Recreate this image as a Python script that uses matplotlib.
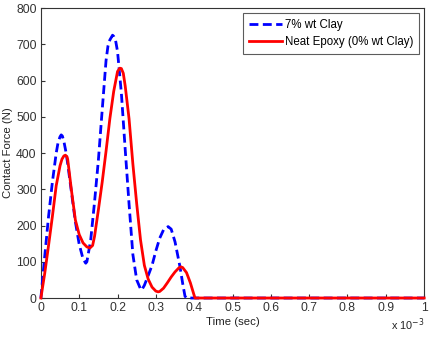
import matplotlib
matplotlib.use("Agg")
import matplotlib.pyplot as plt

plt.rcParams['font.family'] = ['Liberation Sans', 'DejaVu Sans']

# time in units of 1e-3 s
t_clay = [0.0, 0.01, 0.02, 0.03, 0.04, 0.045, 0.05, 0.053, 0.056, 0.06, 0.065, 0.07,
          0.08, 0.09, 0.10, 0.11, 0.117, 0.12, 0.13, 0.14, 0.15, 0.16, 0.17, 0.175,
          0.18, 0.187, 0.19, 0.195, 0.20, 0.21, 0.22, 0.23, 0.24, 0.25, 0.26, 0.263,
          0.27, 0.28, 0.29, 0.30, 0.31, 0.32, 0.332, 0.34, 0.35, 0.363, 0.37, 0.376,
          0.38, 1.0]
f_clay = [0, 115, 225, 320, 400, 430, 445, 450, 447, 432, 405, 370,
          290, 210, 148, 108, 96, 100, 160, 265, 380, 519, 655, 695,
          712, 725, 722, 710, 680, 565, 410, 260, 120, 50, 25, 22,
          35, 62, 90, 130, 165, 188, 197, 190, 155, 86, 40, 5,
          0, 0]

t_neat = [0.0, 0.01, 0.02, 0.03, 0.04, 0.05, 0.055, 0.06, 0.064, 0.068, 0.07, 0.08,
          0.09, 0.10, 0.11, 0.12, 0.128, 0.135, 0.14, 0.15, 0.16, 0.17, 0.18, 0.19,
          0.20, 0.206, 0.21, 0.215, 0.22, 0.23, 0.24, 0.25, 0.26, 0.27, 0.28, 0.29,
          0.30, 0.306, 0.31, 0.32, 0.33, 0.34, 0.35, 0.36, 0.365, 0.37, 0.38, 0.39,
          0.402, 1.0]
f_neat = [0, 68, 145, 225, 310, 365, 383, 392, 394, 390, 382, 295,
          215, 175, 152, 141, 138, 145, 170, 243, 320, 405, 495, 570,
          625, 634, 633, 620, 585, 495, 370, 260, 160, 90, 52, 30,
          19, 17, 18, 27, 42, 58, 72, 83, 86, 84, 70, 42,
          0, 0]

labels = ['7% wt Clay', 'Neat Epoxy (0% wt Clay)']
x_ticks = [0, 0.1, 0.2, 0.3, 0.4, 0.5, 0.6, 0.7, 0.8, 0.9, 1]
x_tick_labels = ['0', '0.1', '0.2', '0.3', '0.4', '0.5', '0.6', '0.7', '0.8', '0.9', '1']
y_ticks = [0, 100, 200, 300, 400, 500, 600, 700, 800]

fig = plt.figure(figsize=(4.35, 3.37), dpi=100)
ax = fig.add_axes([0.094, 0.1157, 0.881, 0.8605])

ax.plot(t_clay, f_clay, color='#0000ff', lw=2, linestyle=(0, (3.2, 1.6)),
        label=labels[0], clip_on=False, zorder=3)
ax.plot(t_neat, f_neat, color='#ff0000', lw=2, label=labels[1],
        clip_on=False, zorder=4)

ax.set_xlim(0, 1)
ax.set_ylim(0, 800)
ax.set_xticks(x_ticks)
ax.set_xticklabels(x_tick_labels)
ax.set_yticks(y_ticks)
ax.tick_params(direction='in', length=3, labelsize=8.8, colors='#333333', pad=3)
for s in ax.spines.values():
    s.set_linewidth(0.8)
    s.set_color('#333333')

ax.set_xlabel('Time (sec)', fontsize=8.2, labelpad=2, color='#222222')
ax.set_ylabel('Contact Force (N)', fontsize=8.2, labelpad=2, color='#222222')
ax.text(1.0, -0.11, r'x 10$^{-3}$', transform=ax.transAxes, fontsize=7.8,
        ha='right', va='baseline', color='#222222')

leg = ax.legend(loc='upper right', fontsize=8.3, frameon=True, fancybox=False,
                handlelength=2.9, handletextpad=0.2, borderpad=0.5,
                labelspacing=0.45, borderaxespad=0.45)
leg.get_frame().set_edgecolor('#333333')
leg.get_frame().set_linewidth(0.8)

fig.savefig('out.png', dpi=100)
